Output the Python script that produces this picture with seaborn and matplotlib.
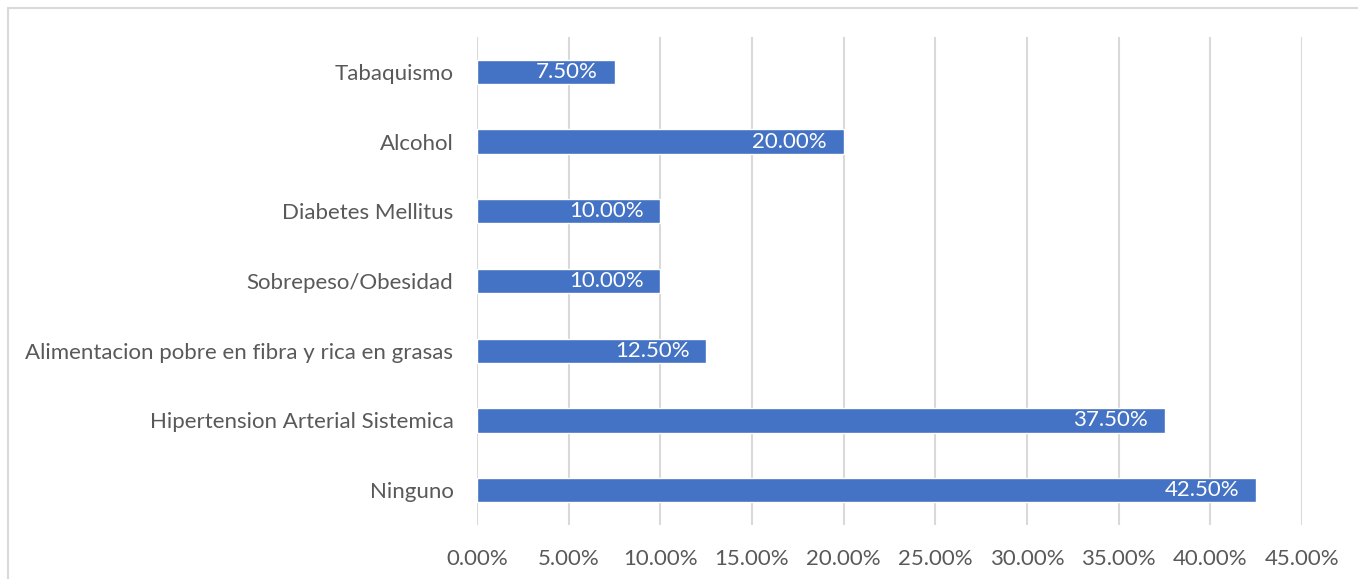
import matplotlib
matplotlib.use("Agg")
import matplotlib.pyplot as plt
import matplotlib.patches as mpatches
from matplotlib.ticker import FuncFormatter, MultipleLocator
import seaborn as sns
import pandas as pd

categories = [
    "Tabaquismo",
    "Alcohol",
    "Diabetes Mellitus",
    "Sobrepeso/Obesidad",
    "Alimentacion pobre en fibra y rica en grasas",
    "Hipertension Arterial Sistemica",
    "Ninguno",
]
values = [7.5, 20.0, 10.0, 10.0, 12.5, 37.5, 42.5]

df = pd.DataFrame({"factor": categories, "pct": values})

sns.set_theme(style="white")
plt.rcParams["font.family"] = ["Lato", "DejaVu Sans"]

W, H = 1358, 579
fig = plt.figure(figsize=(W / 100, H / 100), dpi=100)
ax = fig.add_axes([477 / W, 1 - 525 / H, (1302 - 477) / W, (525 - 37) / H])

bar_color = "#4472C4"
text_color = "#595959"
grid_color = "#D9D9D9"
fs = 16

sns.barplot(data=df, x="pct", y="factor", orient="h", color=bar_color,
            width=0.35, saturation=1, ax=ax)

ax.set_xlim(0, 45)
ax.set_ylim(6.5, -0.5)
ax.xaxis.set_major_locator(MultipleLocator(5))
ax.xaxis.set_major_formatter(FuncFormatter(lambda v, _: f"{v:.2f}%"))
ax.grid(axis="x", color=grid_color, linewidth=1.5)
ax.set_axisbelow(True)
for s in ax.spines.values():
    s.set_visible(False)
ax.set_xlabel("")
ax.set_ylabel("")
ax.tick_params(axis="x", length=0, pad=17, labelsize=fs, labelcolor=text_color)
ax.tick_params(axis="y", length=0, pad=17, labelsize=fs, labelcolor=text_color)

for i, v in enumerate(values):
    ax.annotate(f"{v:.2f}%", xy=(v, i), xytext=(-12, 0),
                textcoords="offset points", ha="right", va="center",
                color="white", fontsize=fs)

# light frame around the chart area
fig.add_artist(mpatches.Rectangle((8 / W, -0.1), 1.2, 1 - 8 / H + 0.1,
                                  transform=fig.transFigure, fill=False,
                                  edgecolor=grid_color, linewidth=1.5))

fig.savefig("out.png", dpi=100)
